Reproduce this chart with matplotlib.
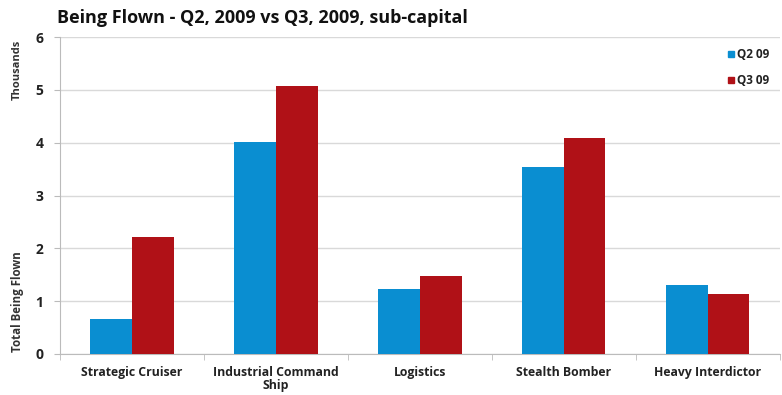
import matplotlib
matplotlib.use("Agg")
import matplotlib.pyplot as plt
import numpy as np
from matplotlib.lines import Line2D

categories = ["Strategic Cruiser", "Industrial Command\nShip", "Logistics", "Stealth Bomber", "Heavy Interdictor"]
q2_09 = [0.66, 4.02, 1.23, 3.54, 1.31]
q3_09 = [2.22, 5.08, 1.48, 4.09, 1.14]
series_names = ["Q2 09", "Q3 09"]
yticks = [0, 1, 2, 3, 4, 5, 6]

blue = "#0A8ED1"
red = "#B01117"
plt.rcParams['font.family'] = ['Open Sans', 'DejaVu Sans']

fig = plt.figure(figsize=(7.82, 3.95), dpi=100)
ax = fig.add_axes([0.0767, 0.104, 0.9203, 0.802])

x = np.arange(len(categories))
w = 0.29
ax.bar(x - w/2, q2_09, w, color=blue, zorder=3)
ax.bar(x + w/2, q3_09, w, color=red, zorder=3)

ax.set_xlim(-0.5, len(categories) - 0.5)
ax.set_ylim(0, 6)
ax.set_yticks(yticks)
ax.set_yticklabels([str(t) for t in yticks], fontsize=10, fontweight='bold', color='#222222')
ax.yaxis.grid(True, color='#d9d9d9', linewidth=1, zorder=0)
ax.set_xticks(x)
ax.set_xticklabels(categories, fontsize=8.8, fontweight='bold', color='#222222', linespacing=0.95)
ax.tick_params(axis='x', length=0, pad=9)
ax.set_xticks(np.arange(-0.5, len(categories)), minor=True)
ax.tick_params(axis='x', which='minor', length=4, color='#bbbbbb')
ax.tick_params(axis='y', length=4, color='#bbbbbb', pad=8)
for s in ['top', 'right']:
    ax.spines[s].set_visible(False)
for s in ['left', 'bottom']:
    ax.spines[s].set_color('#bbbbbb')

fig.text(0.073, 0.955, "Being Flown - Q2, 2009 vs Q3, 2009, sub-capital", fontsize=13, fontweight='bold', color='#111111', va='center')
fig.text(0.022, 0.9, "Thousands", rotation=90, fontsize=8, fontweight='bold', color='#333333', va='top', ha='center')
fig.text(0.022, 0.11, "Total Being Flown", rotation=90, fontsize=8.3, fontweight='bold', color='#333333', va='bottom', ha='center')

handles = [Line2D([], [], marker='s', linestyle='none', color=c, markersize=5) for c in (blue, red)]
leg = ax.legend(handles, series_names, loc='upper right', bbox_to_anchor=(1.0, 1.0), frameon=False,
                fontsize=8.5, handletextpad=0.0, labelspacing=1.1, handlelength=1.0)
for t in leg.get_texts():
    t.set_fontweight('bold')
    t.set_color('#222222')

fig.savefig("out.png", dpi=100)
